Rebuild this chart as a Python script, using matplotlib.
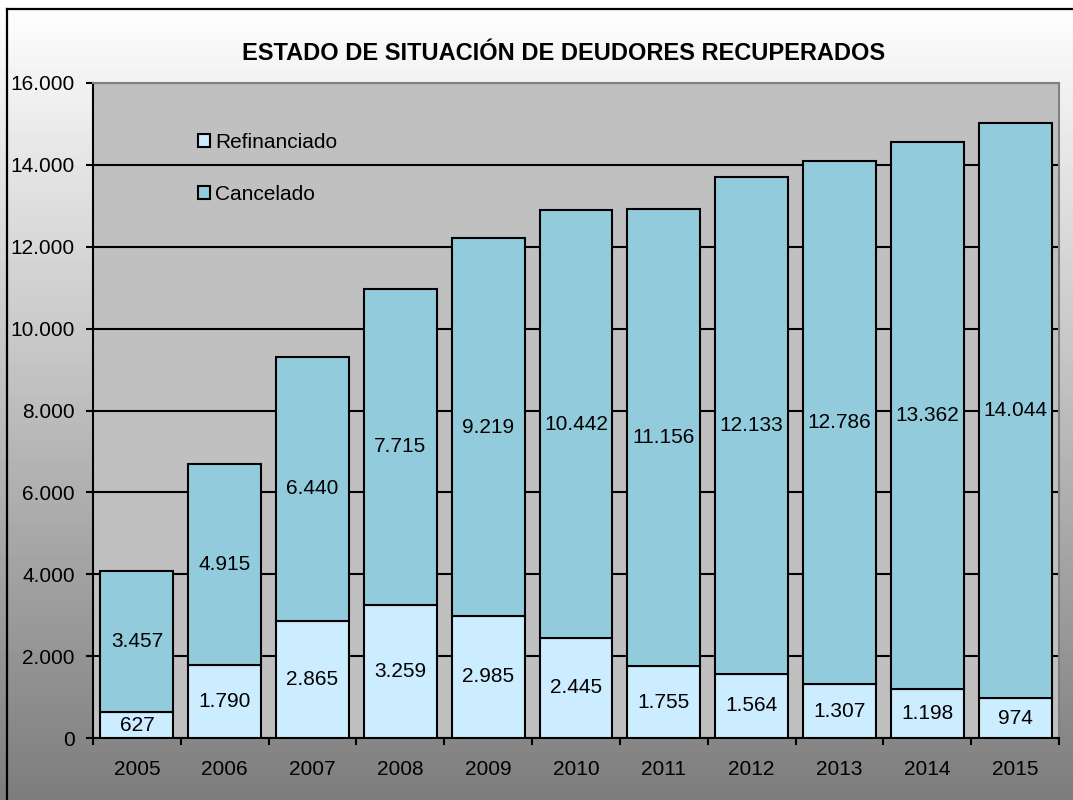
import numpy as np
import matplotlib
matplotlib.use('Agg')
import matplotlib.pyplot as plt
from matplotlib.lines import Line2D
from matplotlib.ticker import FuncFormatter

plt.rcParams['font.family'] = ['Liberation Sans', 'DejaVu Sans']

years = ['2005', '2006', '2007', '2008', '2009', '2010', '2011', '2012', '2013', '2014', '2015']
refinanciado = [627, 1790, 2865, 3259, 2985, 2445, 1755, 1564, 1307, 1198, 974]
cancelado = [3457, 4915, 6440, 7715, 9219, 10442, 11156, 12133, 12786, 13362, 14044]

c_ref = '#CCECFF'
c_can = '#92CCDC'

fig = plt.figure(figsize=(10.73, 8), dpi=100)

# background gradient of the chart area
bg = fig.add_axes([0, 0, 1, 1], zorder=-10)
grad = np.linspace(1.0, 0.49, 256).reshape(-1, 1)
bg.imshow(grad, cmap='gray', vmin=0, vmax=1, aspect='auto', extent=[0, 1, 0, 1])
bg.set_xlim(0, 1)
bg.set_ylim(0, 1)
bg.axis('off')
fig.add_artist(Line2D([7 / 1073, 7 / 1073], [0, 1 - 9 / 800], color='black', lw=1.6, transform=fig.transFigure))
fig.add_artist(Line2D([7 / 1073, 1], [1 - 9 / 800, 1 - 9 / 800], color='black', lw=1.6, transform=fig.transFigure))

ax = fig.add_axes([93 / 1073, 1 - 738 / 800, (1059 - 93) / 1073, (738 - 83) / 800])
ax.set_facecolor('#C0C0C0')
ax.patch.set_alpha(1.0)

x = np.arange(len(years))
w = 0.83
b1 = ax.bar(x, refinanciado, w, color=c_ref, edgecolor='black', linewidth=1.5, label='Refinanciado', zorder=3)
b2 = ax.bar(x, cancelado, w, bottom=refinanciado, color=c_can, edgecolor='black', linewidth=1.5, label='Cancelado', zorder=3)

fmt = lambda v: '{:,}'.format(int(v)).replace(',', '.')
for i in range(len(years)):
    ax.text(x[i], refinanciado[i] / 2, fmt(refinanciado[i]), ha='center', va='center', fontsize=15, zorder=5)
    ax.text(x[i], refinanciado[i] + cancelado[i] / 2, fmt(cancelado[i]), ha='center', va='center', fontsize=15, zorder=5)

ax.set_xlim(-0.5, len(years) - 0.5)
ax.set_ylim(0, 16000)
ax.set_yticks(np.arange(0, 16001, 2000))
ax.yaxis.set_major_formatter(FuncFormatter(lambda v, p: fmt(v)))
ax.yaxis.grid(True, color='black', lw=1.5)
ax.set_axisbelow(True)

ax.set_xticks(x)
ax.set_xticklabels(years)
ax.set_xticks(np.arange(-0.5, len(years)), minor=True)
ax.tick_params(axis='x', which='major', length=0, pad=16, labelsize=15)
ax.tick_params(axis='x', which='minor', length=5, width=1.5, direction='out')
ax.tick_params(axis='y', length=5, width=1.5, direction='out', pad=8, labelsize=15)

for s in ['left', 'bottom']:
    ax.spines[s].set_color('black')
    ax.spines[s].set_linewidth(1.5)
for s in ['top', 'right']:
    ax.spines[s].set_color('#808080')
    ax.spines[s].set_linewidth(1.5)

ax.legend(handles=[b1, b2], loc='upper left', bbox_to_anchor=(0.109, 0.924), frameon=False,
          fontsize=15, handlelength=0.55, handleheight=0.55, handletextpad=0.25,
          labelspacing=1.6, borderpad=0, borderaxespad=0)

fig.text(564 / 1073, 1 - 53 / 800, 'ESTADO DE SITUACIÓN DE DEUDORES RECUPERADOS',
         ha='center', va='center', fontsize=17, fontweight='bold')

plt.savefig('out.png', dpi=100)
